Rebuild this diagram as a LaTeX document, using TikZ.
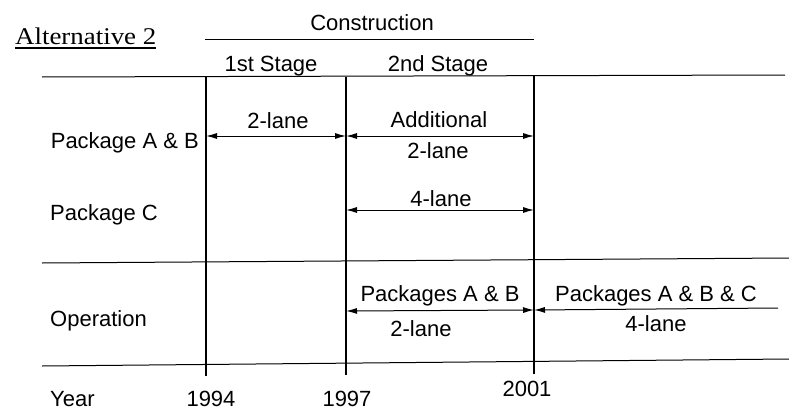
\documentclass[tikz,border=0pt]{standalone}
\usepackage{fontspec}
\setmainfont{Liberation Sans}
\newfontfamily\altfont{Liberation Serif}
\usetikzlibrary{arrows.meta}
\begin{document}
\begin{tikzpicture}[x=1pt,y=-1pt,
  lbl/.style={font=\fontsize{22}{24}\selectfont, inner sep=0pt, anchor=base},
  lbll/.style={lbl, anchor=base west},
  rulex/.style={line width=1pt},
  yearline/.style={line width=1.5pt},
  tipx/.tip={Latex[length=11pt,width=6pt]},
  spanboth/.style={line width=1pt, tipx-tipx},
  spanleft/.style={line width=1pt, tipx-}]
\useasboundingbox (0,0) rectangle (789,412);
% title
\node[inner sep=0pt, anchor=base west, font=\altfont\fontsize{24}{26}\selectfont] (alt) at (15,45) {\scalebox{1.12}[1]{Alternative 2}};
\draw[line width=1.3pt] (alt.base west) ++(0,3) coordinate (ul1) -- (alt.base east |- ul1) coordinate (ul2);
% header
\node[lbl] (constr) at (372,31) {Construction};
\coordinate (cl1) at (205,40); \coordinate (cl2) at (534,40);
\draw[rulex] (cl1) -- (cl2);
\node[lbl] (st1) at (271,71) {1st Stage};
\node[lbl] (st2) at (438,71) {2nd Stage};
% horizontal rules
\coordinate (r1l) at (42,77);  \coordinate (r1r) at (785,75);
\coordinate (r2l) at (42,263); \coordinate (r2r) at (789,258);
\coordinate (r3l) at (42,366); \coordinate (r3r) at (789,359);
\draw[rulex] (r1l) -- (r1r);
\draw[rulex] (r2l) -- (r2r);
\draw[rulex] (r3l) -- (r3r);
% year lines
\coordinate (v1t) at (206,77); \coordinate (v1b) at (206,376);
\coordinate (v2t) at (346,77); \coordinate (v2b) at (346,375);
\coordinate (v3t) at (534,75); \coordinate (v3b) at (534,374);
\draw[yearline] (v1t) -- (v1b);
\draw[yearline] (v2t) -- (v2b);
\draw[yearline] (v3t) -- (v3b);
% row labels
\node[lbl, anchor=base east] (pab) at (199,148) {Package A \& B};
\node[lbll] (pc) at (50,220) {Package C};
\node[lbll] (op) at (50,326) {Operation};
\node[lbll] (yr) at (50,406) {Year};
% years
\node[lbl] (y94) at (211,406) {1994};
\node[lbl] (y97) at (347,406) {1997};
\node[lbl] (y01) at (527,396) {2001};
% Package A & B arrows
\coordinate (a1l) at (206,136); \coordinate (a1m) at (346,136); \coordinate (a1r) at (534,136);
\draw[spanboth] (a1l) -- (a1m);
\draw[spanboth] (a1m) -- (a1r);
\node[lbl] (l1) at (278,128) {2-lane};
\node[lbl] (l2) at (439,127) {Additional};
\node[lbl] (l3) at (438,158) {2-lane};
% Package C arrow
\coordinate (a2l) at (346,210); \coordinate (a2r) at (534,210);
\draw[spanboth] (a2l) -- (a2r);
\node[lbl] (l4) at (441,206) {4-lane};
% Operation arrows
\coordinate (a3l) at (346,311); \coordinate (a3m) at (534,310); \coordinate (a3r) at (778,308);
\draw[spanboth] (a3l) -- (a3m);
\draw[spanleft] (a3m) -- (a3r);
\node[lbl] (l5) at (440,301) {Packages A \& B};
\node[lbl] (l6) at (421,336) {2-lane};
\node[lbl] (l7) at (656,301) {Packages A \& B \& C};
\node[lbl] (l8) at (656,331) {4-lane};
\end{tikzpicture}
\end{document}
